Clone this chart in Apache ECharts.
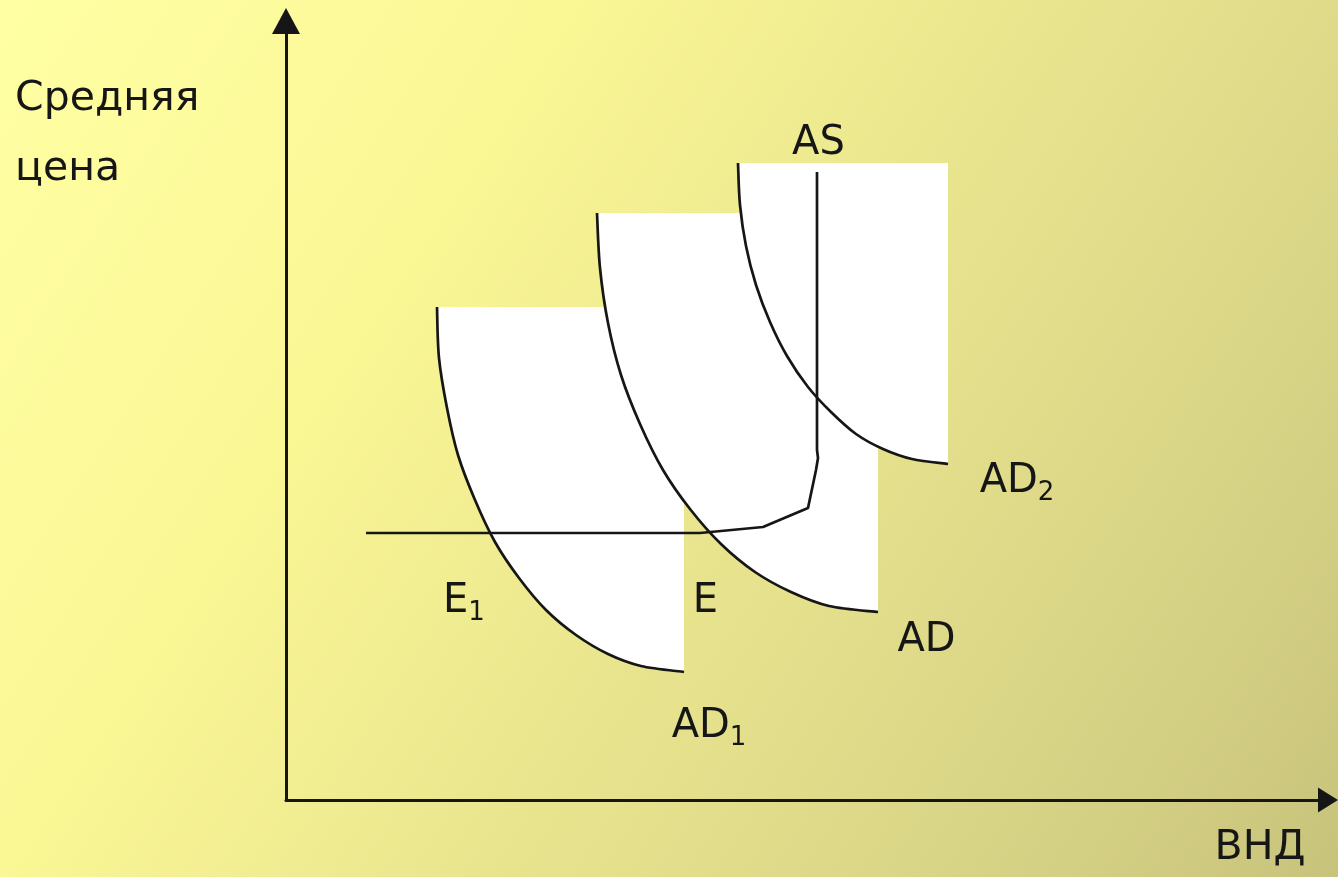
<!DOCTYPE html>
<html><head><meta charset="utf-8">
<script src="https://cdn.jsdelivr.net/npm/echarts@6/dist/echarts.min.js"></script>
<style>html,body{margin:0;padding:0;overflow:hidden}#c{width:1338px;height:877px}</style>
</head><body><div id="c"></div>
<script>
// Curves in chart units (x: ВНД, y: Средняя цена)
const curveAD1 = [[15.1,49.3],[15.3,44.2],[16.1,39.2],[17.2,34.5],[18.9,30.0],[20.9,25.8],[23.3,22.2],[26.0,19.0],[29.0,16.5],[32.2,14.6],[35.5,13.4],[39.8,12.8]];
const curveAD  = [[31.1,58.7],[31.4,53.2],[32.2,47.7],[33.5,42.5],[35.4,37.6],[37.7,33.0],[40.4,29.1],[43.5,25.6],[46.9,22.8],[50.5,20.8],[54.3,19.4],[59.2,18.8]];
const curveAD2 = [[45.2,63.7],[45.4,59.5],[46.0,55.4],[47.0,51.5],[48.4,47.8],[50.1,44.4],[52.2,41.3],[54.5,38.8],[57.0,36.6],[59.7,35.1],[62.6,34.1],[66.2,33.6]];
const curveAS  = [[8.0,26.7],[41.4,26.7],[47.7,27.3],[52.2,29.2],[53.0,33.0],[53.2,34.2],[53.1,35.0],[53.1,62.8]];
const labelNames = ['AS','AD2','AD','AD1','E1','E'];
const labelPos = [[53.25,65.6],[73.1,31.8],[64.05,15.9],[42.3,7.3],[17.8,19.8],[41.95,19.8]];
const yTitle = ['Средняя','цена'];
const xTitle = 'ВНД';

const FONT = 'DejaVu Sans';
const INK = '#161616';
const LW = 2.7;

// Catmull-Rom path through screen points (points come from api.coord)
function splinePath(pts){
  let d = 'M' + pts[0][0] + ' ' + pts[0][1];
  for (let i = 0; i < pts.length - 1; i++){
    const p0 = pts[Math.max(i-1,0)], p1 = pts[i], p2 = pts[i+1], p3 = pts[Math.min(i+2, pts.length-1)];
    const c1 = [p1[0] + (p2[0]-p0[0])/6, p1[1] + (p2[1]-p0[1])/6];
    const c2 = [p2[0] - (p3[0]-p1[0])/6, p2[1] - (p3[1]-p1[1])/6];
    d += ' C' + c1[0] + ' ' + c1[1] + ' ' + c2[0] + ' ' + c2[1] + ' ' + p2[0] + ' ' + p2[1];
  }
  return d;
}
function fill(curve){
  return {type:'custom', coordinateSystem:'cartesian2d', silent:true, z:1, clip:false,
    data:[[0,0]],
    renderItem:(p, api)=>{
      const pts = curve.map(pt=>api.coord(pt));
      const corner = api.coord([curve[curve.length-1][0], curve[0][1]]);
      const d = splinePath(pts) + ' L' + corner[0] + ' ' + corner[1] + ' Z';
      return {type:'path', shape:{pathData:d}, style:{fill:'#ffffff', stroke:null}};
    }};
}
function curveLine(curve){
  return {type:'custom', coordinateSystem:'cartesian2d', silent:true, z:3, clip:false,
    data:[[0,0]],
    renderItem:(p, api)=>{
      const pts = curve.map(pt=>api.coord(pt));
      return {type:'path', shape:{pathData:splinePath(pts)}, style:{fill:null, stroke:INK, lineWidth:LW}};
    }};
}
function fmt(n){
  const m = n.match(/^([A-Z]+)(\d?)$/);
  return m[2] ? '{a|'+m[1]+'}{s|'+m[2]+'}' : '{a|'+m[1]+'}';
}

const chart = echarts.init(document.getElementById('c'));
chart.setOption({
  animation:false,
  grid:{left:286, right:10, top:21, bottom:77},
  xAxis:{type:'value', min:0, max:104.2, axisTick:{show:false}, axisLabel:{show:false}, splitLine:{show:false},
    axisLine:{show:true, symbol:['none','triangle'], symbolSize:[25,20], lineStyle:{color:INK, width:3}}},
  yAxis:{type:'value', min:0, max:77.9, axisTick:{show:false}, axisLabel:{show:false}, splitLine:{show:false},
    axisLine:{show:true, symbol:['none','triangle'], symbolSize:[28,26], lineStyle:{color:INK, width:3}}},
  graphic:[
    {type:'rect', z:-100, silent:true, shape:{x:0,y:0,width:1338,height:877},
     style:{fill:{type:'linear', x:0, y:0, x2:1, y2:1, colorStops:[
       {offset:0, color:'#ffffa4'},{offset:0.3, color:'#faf795'},{offset:0.45, color:'#f0ec91'},
       {offset:0.62, color:'#e4e08c'},{offset:0.8, color:'#d8d486'},{offset:1, color:'#c8c37b'}]}}},
    {type:'text', x:15, y:99, z:10, style:{text:yTitle[0], font:'41px '+FONT, fill:INK, verticalAlign:'middle'}},
    {type:'text', x:15, y:169, z:10, style:{text:yTitle[1], font:'41px '+FONT, fill:INK, verticalAlign:'middle'}},
    {type:'text', x:1260, y:848, z:10, style:{text:xTitle, font:'41px '+FONT, fill:INK, align:'center', verticalAlign:'middle'}}
  ],
  series:[
    fill(curveAD1), fill(curveAD), fill(curveAD2),
    curveLine(curveAD1), curveLine(curveAD), curveLine(curveAD2),
    {type:'line', data:curveAS, smooth:false, symbol:'none', silent:true, z:3, lineStyle:{color:INK, width:LW}},
    {type:'scatter', symbolSize:0, silent:true, z:5, itemStyle:{opacity:1},
     data: labelPos.map((p,i)=>({value:p, name:labelNames[i]})),
     label:{show:true, position:'inside', color:INK, opacity:1, textBorderWidth:0, formatter:(d)=>fmt(d.name),
       rich:{a:{fontFamily:FONT, fontSize:40, lineHeight:48, color:INK, textBorderWidth:0},
             s:{fontFamily:FONT, fontSize:26, lineHeight:24, color:INK, textBorderWidth:0, verticalAlign:'bottom'}}}}
  ]
});
</script></body></html>
